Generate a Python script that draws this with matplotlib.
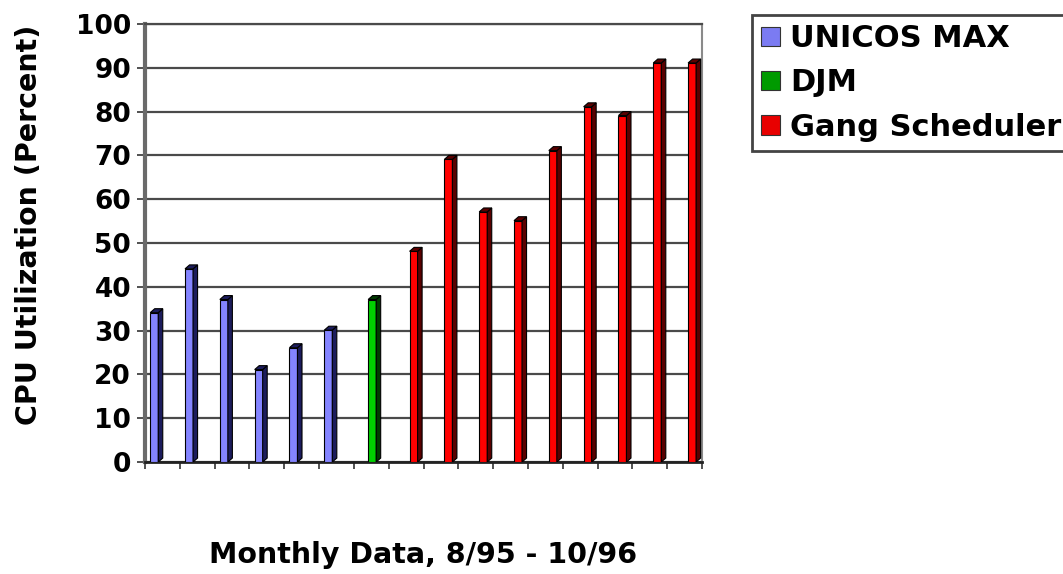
import matplotlib.pyplot as plt
from matplotlib.patches import Patch, Polygon

plt.rcParams["font.family"] = ["DejaVu Sans"]
plt.rcParams["font.weight"] = "bold"

# monthly CPU utilization, one scheduler per month
months = list(range(16))
unicos_max = [35, 45, 38, 22, 27, 31] + [None] * 10
djm = [None] * 6 + [38] + [None] * 9
gang = [None] * 7 + [49, 70, 58, 56, 72, 82, 80, 92, 92]

series = [
    ("UNICOS MAX", unicos_max, 0.15, "#8484ff", "#1c1c5c", "#7b7bf2"),
    ("DJM", djm, 0.41, "#00d000", "#003a00", "#009a00"),
    ("Gang Scheduler", gang, 0.60, "#ff0000", "#5a0000", "#e80000"),
]

BAR_W = 0.23
DX, DY = 0.13, 0.9  # fake 3d depth

fig = plt.figure(figsize=(10.63, 5.74), dpi=100)
ax = fig.add_axes([145 / 1063, 112 / 574, 557 / 1063, 438 / 574])

for name, values, offset, face, side, _ in series:
    for m, v in zip(months, values):
        if v is None:
            continue
        x0 = m + offset
        ax.bar(x0, v - DY, width=BAR_W, align="edge", color=face,
               edgecolor="black", linewidth=0.8, zorder=3)
        x1 = x0 + BAR_W
        ax.add_patch(Polygon([(x1, 0), (x1 + DX, DY), (x1 + DX, v), (x1, v - DY)],
                             closed=True, facecolor=side, edgecolor="black",
                             linewidth=0.8, zorder=3))
        ax.add_patch(Polygon([(x0, v - DY), (x0 + DX, v), (x1 + DX, v), (x1, v - DY)],
                             closed=True, facecolor=side, edgecolor="black",
                             linewidth=0.8, zorder=4))

ax.set_xlim(0, 16)
ax.set_ylim(0, 100)
ax.set_yticks(range(0, 101, 10))
ax.set_xticks(range(0, 17))
ax.set_xticklabels([])
ax.yaxis.grid(True, color="#4a4a4a", linewidth=1.6)
ax.set_axisbelow(True)

ax.tick_params(axis="y", direction="out", length=6, width=1.2, color="#333333",
               labelsize=19, pad=4)
ax.tick_params(axis="x", direction="out", length=5, width=1.2, color="#333333")
for lab in ax.get_yticklabels():
    lab.set_fontweight("bold")

ax.spines["left"].set_color("#6a6a6a")
ax.spines["left"].set_linewidth(3)
ax.spines["right"].set_color("#8a8a8a")
ax.spines["right"].set_linewidth(1.5)
ax.spines["top"].set_color("#4a4a4a")
ax.spines["top"].set_linewidth(1.6)
ax.spines["bottom"].set_color("#222222")
ax.spines["bottom"].set_linewidth(2)

fig.text(29 / 1063, 1 - 225 / 574, "CPU Utilization (Percent)", rotation=90,
         ha="center", va="center", fontsize=20.5, fontweight="bold")
fig.text(423 / 1063, 1 - 555 / 574, "Monthly Data, 8/95 - 10/96",
         ha="center", va="center", fontsize=20.5, fontweight="bold")

handles = [Patch(facecolor=leg, edgecolor="#333333", linewidth=0.8)
           for _, _, _, _, _, leg in series]
labels = [s[0] for s in series]
leg = fig.legend(handles, labels, loc="upper left",
                 bbox_to_anchor=(752 / 1063, 1 - 15 / 574),
                 prop={"size": 22, "weight": "bold"},
                 handlelength=0.6, handleheight=0.6, handletextpad=0.35,
                 borderpad=0.3, labelspacing=0.5, borderaxespad=0,
                 fancybox=False, framealpha=1)
leg.get_frame().set_edgecolor("#444444")
leg.get_frame().set_linewidth(2)

fig.savefig("out.png", dpi=100)
